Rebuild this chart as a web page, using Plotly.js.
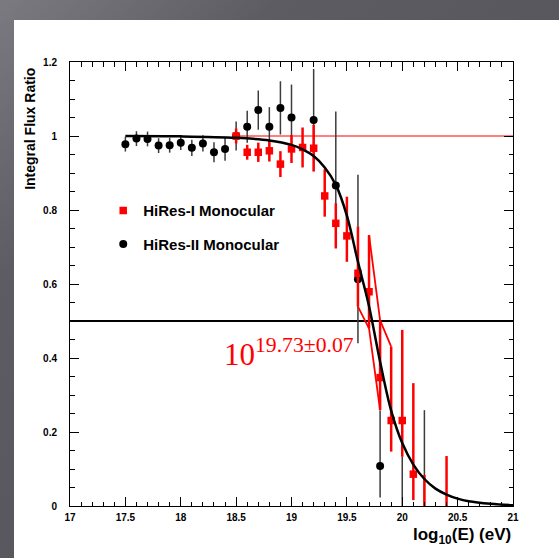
<!DOCTYPE html>
<html>
<head>
<meta charset="utf-8">
<script src="https://cdn.plot.ly/plotly-3.0.1.min.js"></script>
<style>
  html, body { margin:0; padding:0; width:559px; height:558px; overflow:hidden; }
  body { background: linear-gradient(135deg, #7a7a80 0%, #5c5c62 25%, #4f4f55 100%); position:relative; }
  #panel { position:absolute; left:14px; top:20px; right:0; bottom:0; background:#ffffff; }
  #chart { position:absolute; left:0; top:0; width:559px; height:558px; }
</style>
</head>
<body>
<div id="panel"></div>
<div id="chart"></div>
<script>
// ---- HiRes-II monocular (black circles) ----
const hires2X = [17.5,17.6,17.7,17.8,17.9,18.0,18.1,18.2,18.3,18.4,18.5,18.6,18.7,18.8,18.9,19.0,19.2,19.4,19.6,19.8];
const hires2Y = [0.978,0.993,0.992,0.974,0.975,0.982,0.968,0.980,0.956,0.965,1.000,1.025,1.070,1.025,1.076,1.050,1.043,0.866,0.613,0.108];
const hires2ErrUp   = [0.020,0.020,0.020,0.020,0.020,0.020,0.022,0.022,0.027,0.032,0.039,0.043,0.053,0.053,0.072,0.089,0.138,0.200,0.282,0.150];
const hires2ErrDown = [0.020,0.020,0.020,0.020,0.020,0.020,0.022,0.022,0.027,0.032,0.039,0.043,0.053,0.053,0.072,0.089,0.138,0.160,0.173,0.085];
// HiRes-II empty bins (upper error only)
const hires2ZeroX = [20.0, 20.2];
const hires2ZeroY = [0, 0];
const hires2ZeroUp = [0.133, 0.259];

// ---- HiRes-I monocular (red squares) ----
const hires1X = [18.5,18.6,18.7,18.8,18.9,19.0,19.1,19.2,19.3,19.4,19.5,19.6,19.7,19.8,19.9,20.0,20.1];
const hires1Y = [1.000,0.956,0.956,0.960,0.924,0.965,0.969,0.967,0.838,0.764,0.730,0.629,0.579,0.347,0.231,0.231,0.086];
const hires1ErrUp   = [0.020,0.020,0.026,0.029,0.035,0.038,0.054,0.063,0.072,0.054,0.106,0.126,0.153,0.155,0.200,0.245,0.246];
const hires1ErrDown = [0.020,0.020,0.026,0.029,0.035,0.038,0.054,0.063,0.056,0.068,0.070,0.090,0.099,0.088,0.084,0.098,0.070];
// HiRes-I empty bins (upper error only)
const hires1ZeroX = [20.2, 20.4];
const hires1ZeroY = [0, 0];
const hires1ZeroUp = [0.084, 0.135];

// ---- expected integral flux ratio curve ----
const fitX = [17.5,18.0,18.5,18.8,19.0,19.1,19.2,19.3,19.4,19.5,19.6,19.7,19.8,19.9,20.0,20.1,20.2,20.3,20.4,20.5,20.6,20.8,21.0];
const fitY = [1.000,0.999,0.995,0.988,0.976,0.964,0.946,0.915,0.868,0.785,0.660,0.540,0.390,0.258,0.170,0.112,0.073,0.047,0.031,0.020,0.013,0.006,0.002];

// ---- reference levels ----
const unityX = [18.5, 21];
const unityY = [1, 1];
const halfX = [17, 21];
const halfY = [0.5, 0.5];

// error-envelope lines around the break (built from HiRes-I error ends)
const envUpperBins = [19.7, 19.8, 19.9];
const envLowerBins = [19.6, 19.7, 19.8];

// ---- text ----
const legendNames = ['HiRes-I Monocular', 'HiRes-II Monocular'];
const breakLabel = '10<sup>19.73\u00b10.07</sup>';
const yTitle = 'Integral Flux Ratio';
const xTitle = 'log<sub>10</sub>(E) (eV)';

const RED = '#ff0000';
const idx = v => hires1X.findIndex(x => Math.abs(x - v) < 1e-6);
const envUpperY = envUpperBins.map(v => hires1Y[idx(v)] + hires1ErrUp[idx(v)]);
const envLowerY = envLowerBins.map(v => hires1Y[idx(v)] - hires1ErrDown[idx(v)]);

const traces = [
  {x: halfX, y: halfY, mode: 'lines', line: {color: '#000', width: 2}, showlegend: false, hoverinfo: 'skip'},
  {x: unityX, y: unityY, mode: 'lines', line: {color: RED, width: 1}, showlegend: false, hoverinfo: 'skip'},
  {x: hires2ZeroX, y: hires2ZeroY, mode: 'markers', marker: {size: 1, color: 'rgba(0,0,0,0)'},
   error_y: {type: 'data', symmetric: false, array: hires2ZeroUp, arrayminus: [0,0], color: '#3c3c3c', thickness: 1.5, width: 0},
   showlegend: false, hoverinfo: 'skip'},
  {x: hires2X, y: hires2Y, mode: 'markers', name: legendNames[1], legendgroup: 'b', legendrank: 2,
   marker: {symbol: 'circle', size: 8, color: '#000'},
   error_y: {type: 'data', symmetric: false, array: hires2ErrUp, arrayminus: hires2ErrDown, color: '#3c3c3c', thickness: 1.5, width: 0}},
  {x: hires1ZeroX, y: hires1ZeroY, mode: 'markers', marker: {size: 1, color: 'rgba(0,0,0,0)'},
   error_y: {type: 'data', symmetric: false, array: hires1ZeroUp, arrayminus: [0,0], color: RED, thickness: 2.5, width: 0},
   showlegend: false, hoverinfo: 'skip'},
  {x: hires1X, y: hires1Y, mode: 'markers', name: legendNames[0], legendgroup: 'a', legendrank: 1,
   marker: {symbol: 'square', size: 7.5, color: RED},
   error_y: {type: 'data', symmetric: false, array: hires1ErrUp, arrayminus: hires1ErrDown, color: RED, thickness: 2.5, width: 0}},
  {x: envUpperBins, y: envUpperY, mode: 'lines', line: {color: RED, width: 1.8}, showlegend: false, hoverinfo: 'skip'},
  {x: envLowerBins, y: envLowerY, mode: 'lines', line: {color: RED, width: 1.8}, showlegend: false, hoverinfo: 'skip'},
  {x: fitX, y: fitY, mode: 'lines', line: {color: '#000', width: 2.5, shape: 'spline', smoothing: 1}, showlegend: false, hoverinfo: 'skip'}
];

const tickFont = {family: 'Liberation Sans, Arial, sans-serif', size: 10, color: '#000', weight: 'bold'};
const layout = {
  width: 559, height: 558,
  margin: {l: 70, r: 46, t: 62, b: 52, pad: 0},
  paper_bgcolor: 'rgba(0,0,0,0)',
  plot_bgcolor: 'rgba(0,0,0,0)',
  showlegend: true,
  legend: {
    x: 0.075, y: 0.702, xanchor: 'left', yanchor: 'top',
    bgcolor: 'rgba(0,0,0,0)', borderwidth: 0, tracegroupgap: 11,
    font: {family: 'Liberation Sans, Arial, sans-serif', size: 15, color: '#000', weight: 'bold'},
    traceorder: 'grouped'
  },
  xaxis: {
    range: [17, 21], tick0: 17, dtick: 0.5, ticks: 'inside', ticklen: 9, tickwidth: 1, tickcolor: '#000',
    showline: true, linecolor: '#000', linewidth: 1, mirror: 'ticks', showgrid: false, zeroline: false,
    minor: {dtick: 0.1, ticks: 'inside', ticklen: 4.5, tickcolor: '#000', tickwidth: 1, showgrid: false},
    tickfont: tickFont, ticklabelstandoff: 2
  },
  yaxis: {
    range: [0, 1.2], tick0: 0, dtick: 0.2, ticks: 'inside', ticklen: 9, tickwidth: 1, tickcolor: '#000',
    showline: true, linecolor: '#000', linewidth: 1, mirror: 'ticks', showgrid: false, zeroline: false,
    minor: {dtick: 0.05, ticks: 'inside', ticklen: 4.5, tickcolor: '#000', tickwidth: 1, showgrid: false},
    tickfont: tickFont, ticklabelstandoff: 10
  },
  annotations: [
    {text: breakLabel, x: 18.375, y: 0.415, xref: 'x', yref: 'y', xanchor: 'left', yanchor: 'middle', showarrow: false,
     font: {family: 'Liberation Serif, Times New Roman, serif', size: 31, color: RED}},
    {text: yTitle, xref: 'paper', yref: 'paper', x: -0.092, y: 0.85, xanchor: 'center', yanchor: 'middle',
     textangle: -90, showarrow: false,
     font: {family: 'Liberation Sans, Arial, sans-serif', size: 14, color: '#000', weight: 'bold'}},
    {text: xTitle, xref: 'paper', yref: 'paper', x: 1, y: -0.068, xanchor: 'right', yanchor: 'middle', showarrow: false,
     font: {family: 'Liberation Sans, Arial, sans-serif', size: 17, color: '#000', weight: 'bold'}}
  ]
};

Plotly.newPlot('chart', traces, layout, {displayModeBar: false, staticPlot: true});
</script>
</body>
</html>
